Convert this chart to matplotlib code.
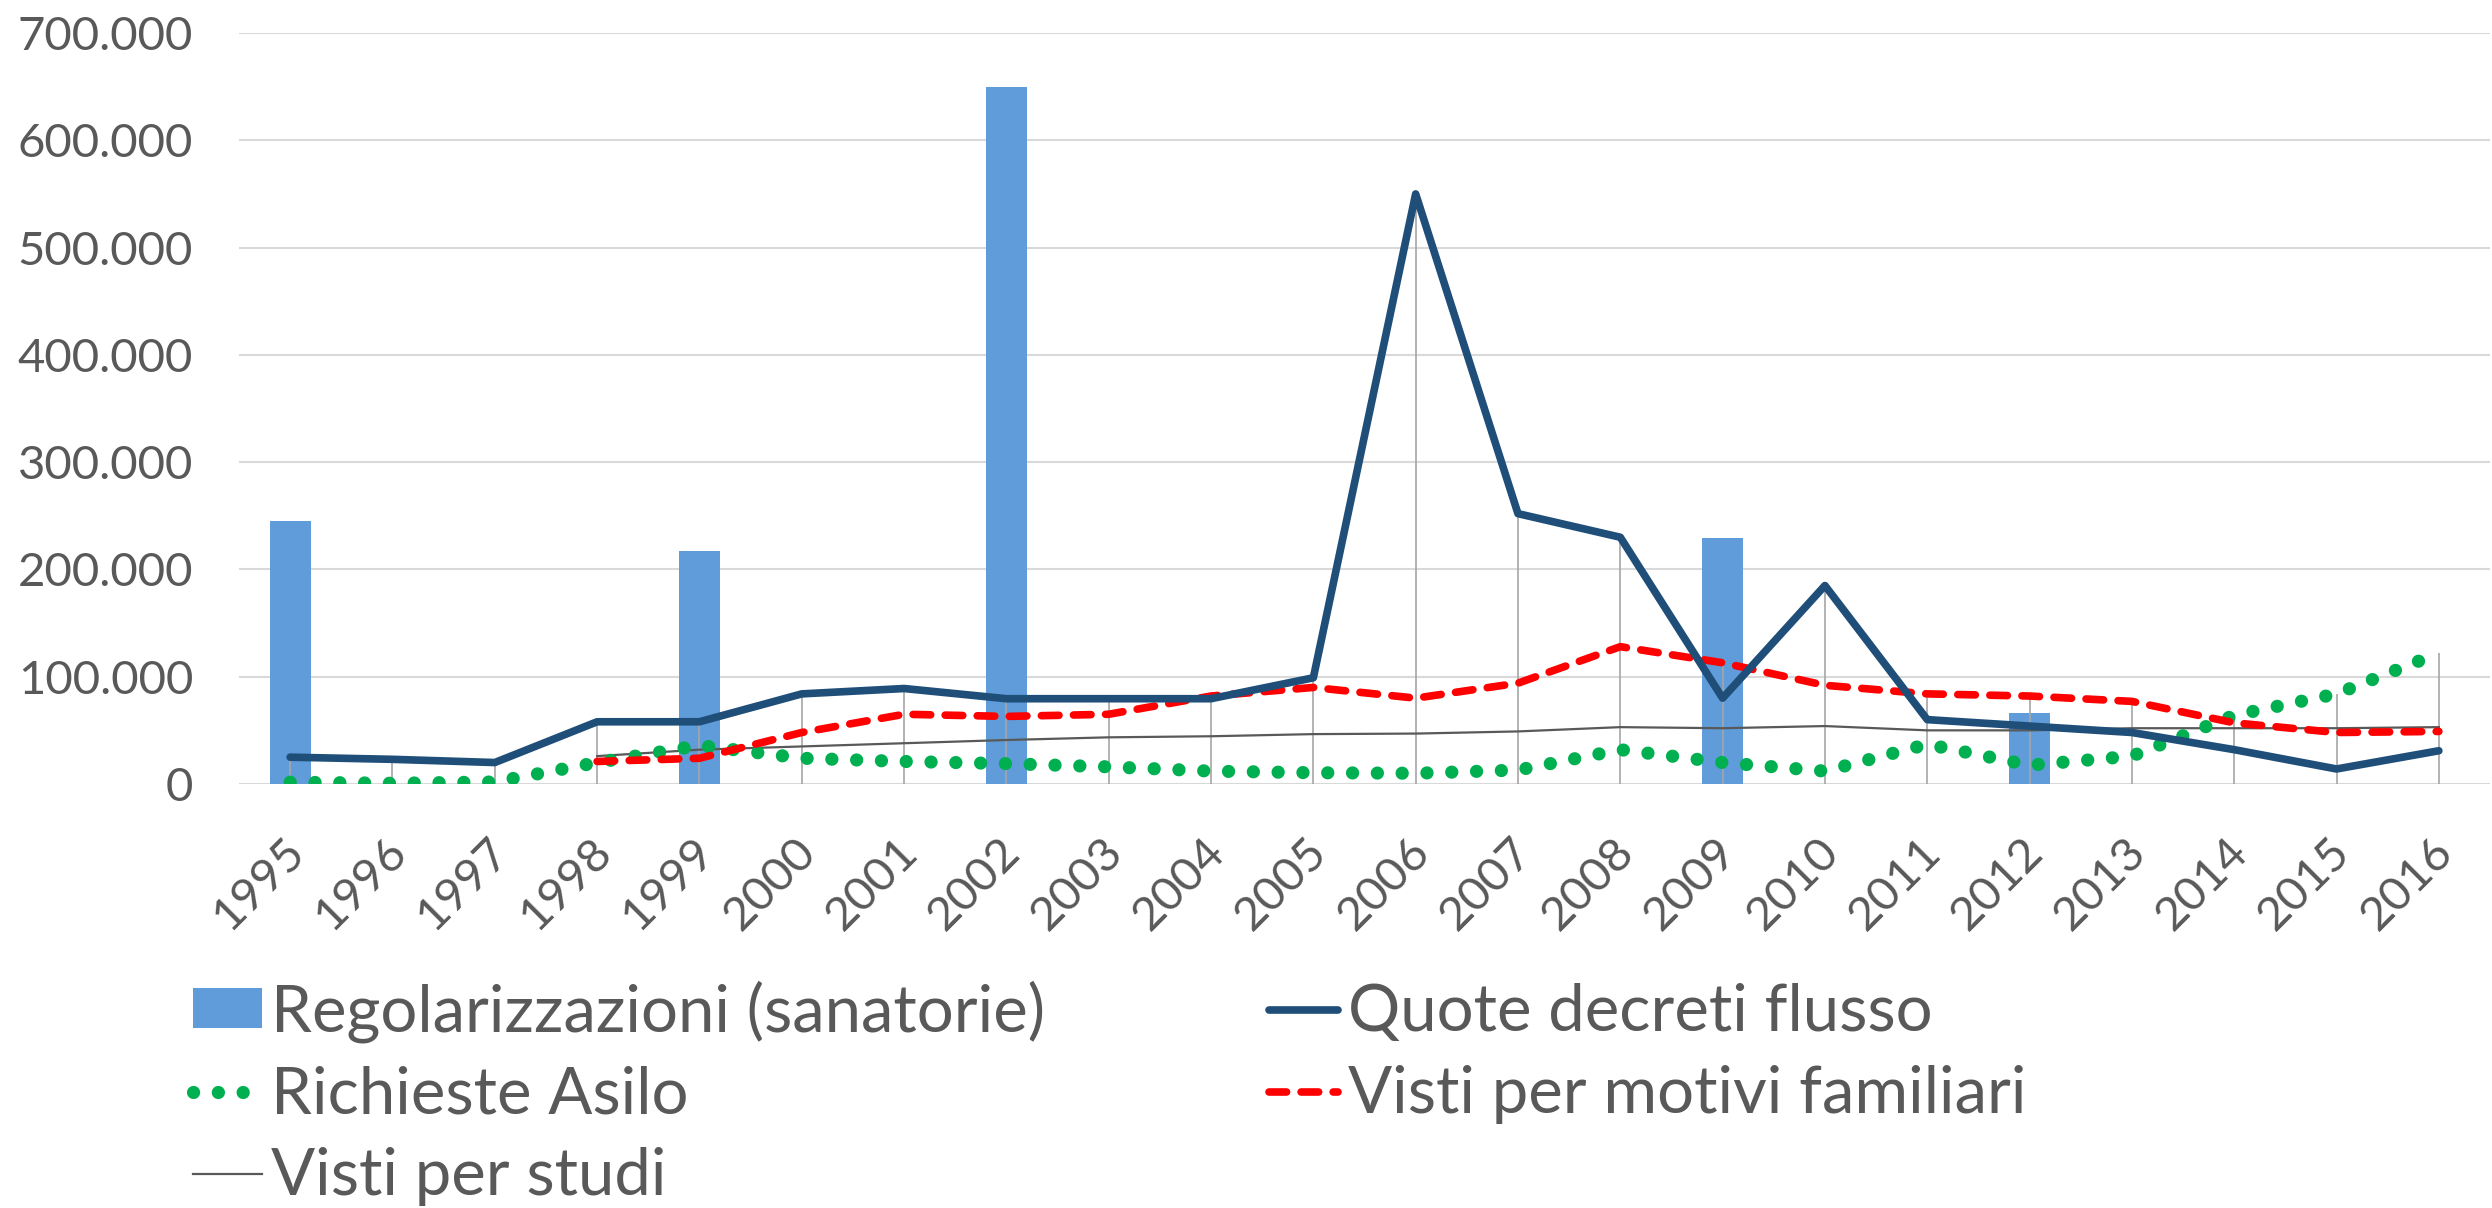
import numpy as np
import matplotlib
matplotlib.use('Agg')
import matplotlib.pyplot as plt
import matplotlib.transforms as mtrans
from matplotlib.ticker import FuncFormatter

years = [str(y) for y in range(1995, 2017)]
regolarizzazioni = [245000, 0, 0, 0, 217000, 0, 0, 650000, 0, 0, 0,
                    0, 0, 0, 229000, 0, 0, 66000, 0, 0, 0, 0]
quote_decreti = [25000, 23000, 20000, 58000, 58000, 84000, 89000, 79500, 79500, 79500, 99000,
                 550000, 252000, 230000, 80000, 185000, 60000, 54000, 48000, 32000, 14000, 31000]
richieste_asilo = [1700, 700, 1900, 20000, 36000, 24000, 21000, 19000, 16000, 12000, 10500,
                   10000, 13000, 32000, 20000, 12000, 37000, 17500, 26000, 64000, 84000, 122000]
visti_familiari = [np.nan, np.nan, np.nan, 21000, 24000, 48000, 65000, 63000, 65000, 82000, 90000,
                   80000, 94000, 128000, 113000, 92000, 84000, 82000, 77000, 57000, 48000, 49000]
visti_studi = [np.nan, np.nan, np.nan, 26000, 32000, 35000, 38000, 41000, 43500, 44500, 46500,
               47000, 49000, 53000, 52000, 54000, 50000, 50000, 52000, 52000, 52000, 53000]
yticks = [0, 100000, 200000, 300000, 400000, 500000, 600000, 700000]

plt.rcParams['font.family'] = ['Lato', 'DejaVu Sans']
TXT = '#595959'

W, H = 2492, 1208
fig = plt.figure(figsize=(W / 100, H / 100), dpi=100)
ax = fig.add_axes([239 / W, 1 - 784 / H, 2251 / W, 751 / H])

x = np.arange(len(years))
bars = ax.bar(x, regolarizzazioni, width=0.4, color='#5F9CD9', linewidth=0, zorder=2,
              label='Regolarizzazioni (sanatorie)')

lines_stack = np.vstack([quote_decreti, richieste_asilo, visti_familiari, visti_studi]).astype(float)
drop_top = np.nanmax(lines_stack, axis=0)
ax.vlines(x, 0, drop_top, color='#A6A6A6', linewidth=1.2, zorder=3)

l_studi, = ax.plot(x, visti_studi, color='#595959', linewidth=1.6, zorder=4, label='Visti per studi')
l_asilo, = ax.plot(x, richieste_asilo, color='#00B050', linewidth=9.5, linestyle=(0, (0.01, 1.87)),
                   dash_capstyle='round', zorder=5, label='Richieste Asilo')
l_fam, = ax.plot(x, visti_familiari, color='#FF0000', linewidth=5.5, linestyle=(0, (2.3, 1.9)),
                 dash_capstyle='round', zorder=6, label='Visti per motivi familiari')
l_quote, = ax.plot(x, quote_decreti, color='#1F4E79', linewidth=5.5, solid_capstyle='round',
                   solid_joinstyle='round', zorder=7, label='Quote decreti flusso')

ax.set_xlim(-0.5, len(years) - 0.5)
ax.set_ylim(0, 700000)
ax.set_yticks(yticks)
ax.yaxis.set_major_formatter(FuncFormatter(lambda v, p: f"{int(v):,}".replace(',', '.')))
ax.grid(axis='y', color='#D9D9D9', linewidth=1.5, zorder=0)
ax.set_axisbelow(True)
for s in ax.spines.values():
    s.set_visible(False)
ax.tick_params(axis='y', length=0, pad=33, labelsize=34, labelcolor=TXT)
ax.set_xticks(x)
ax.set_xticklabels(years)
ax.tick_params(axis='x', length=0, pad=44, labelsize=34, labelcolor=TXT)
shift = mtrans.ScaledTranslation(7 / 100, 0, fig.dpi_scale_trans)
for lab in ax.get_xticklabels():
    lab.set_rotation(45)
    lab.set_ha('right')
    lab.set_va('center')
    lab.set_rotation_mode('anchor')
    lab.set_transform(lab.get_transform() + shift)

handles = [bars, l_asilo, l_studi, l_quote, l_fam]
labels = [h.get_label() for h in handles]
leg = fig.legend(handles, labels, ncol=2, loc='upper left', bbox_to_anchor=(193 / W, 1 - 980 / H),
                 frameon=False, fontsize=47, labelcolor=TXT, borderpad=0, borderaxespad=0,
                 handlelength=1.05, handleheight=0.55, handletextpad=0.15, labelspacing=0.35,
                 columnspacing=3.43)

fig.savefig('out.png', dpi=100)
